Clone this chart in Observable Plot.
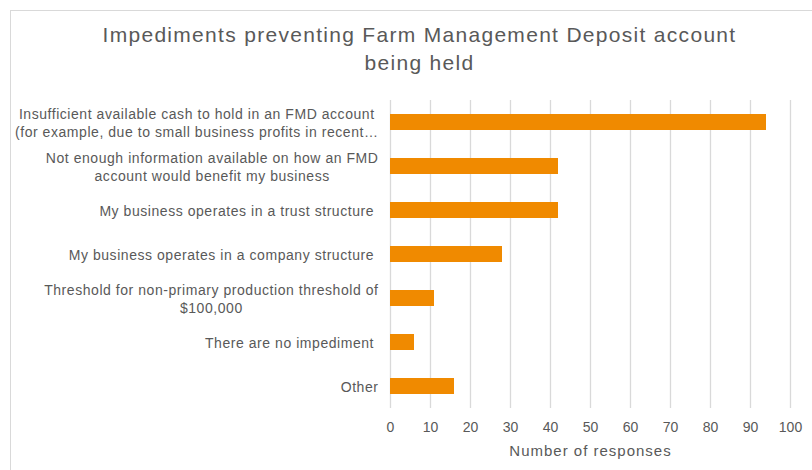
<!DOCTYPE html>
<html>
<head>
<meta charset="utf-8">
<script src="https://cdn.jsdelivr.net/npm/d3@7"></script>
<script src="https://cdn.jsdelivr.net/npm/@observablehq/plot@0.6"></script>
<style>
  html, body { margin: 0; padding: 0; background: #fff; overflow: hidden; }
  #wrap { position: relative; width: 812px; height: 470px; overflow: hidden; font-family: "Liberation Sans", Arial, sans-serif; }
  #frame { position: absolute; left: 10px; top: 10px; width: 900px; height: 600px; border: 1px solid #d9d9d9; box-sizing: border-box; }
  #title { position: absolute; left: 10px; width: 819px; top: 21px; text-align: center; font-size: 21px; letter-spacing: 1.3px; line-height: 28px; color: #595959; }
  #chart { position: absolute; left: 0; top: 0; }
</style>
</head>
<body>
<div id="wrap">
  <div id="frame"></div>
  <div id="chart"></div>
  <div id="title">Impediments preventing Farm Management Deposit account<br>being held</div>
</div>
<script>
const categories = [
  "Insufficient available cash to hold in an FMD account (for example, due to small business profits in recent years)",
  "Not enough information available on how an FMD account would benefit my business",
  "My business operates in a trust structure",
  "My business operates in a company structure",
  "Threshold for non-primary production threshold of $100,000",
  "There are no impediment",
  "Other"
];
const tickLabels = [
  "Insufficient available cash to hold in an FMD account\n(for example, due to small business profits in recent\u2026",
  "Not enough information available on how an FMD\naccount would benefit my business",
  "My business operates in a trust structure\u00a0",
  "My business operates in a company structure\u00a0",
  "Threshold for non-primary production threshold of\n$100,000",
  "There are no impediment\u00a0",
  "Other"
];
const values = [94, 42, 42, 28, 11, 6, 16];
const xTicks = [0, 10, 20, 30, 40, 50, 60, 70, 80, 90, 100];
const xLabel = "Number of responses";

const data = categories.map((c, i) => ({category: c, value: values[i]}));
const labelOf = new Map(categories.map((c, i) => [c, tickLabels[i]]));

const plot = Plot.plot({
  width: 812,
  height: 470,
  marginLeft: 390,
  marginRight: 22,
  marginTop: 100,
  marginBottom: 62,
  style: {fontFamily: '"Liberation Sans", Arial, sans-serif', color: "#595959", background: "transparent"},
  x: {domain: [0, 100]},
  y: {domain: categories, padding: 0},
  marks: [
    Plot.ruleX(xTicks, {stroke: "#d9d9d9", strokeWidth: 1.3}),
    Plot.barX(data, {x: "value", y: "category", fill: "#F08A00", insetTop: 14, insetBottom: 14}),
    Plot.axisX({ticks: xTicks, tickSize: 0, tickPadding: 14, fontSize: 14, fill: "#595959",
      label: xLabel, labelAnchor: "center", labelArrow: "none", labelOffset: 47}),
    Plot.axisY({tickSize: 0, tickPadding: 12, fontSize: 14, fill: "#595959", lineHeight: 1.28,
      tickFormat: d => labelOf.get(d), label: null})
  ]
});
document.getElementById("chart").appendChild(plot);

// letter spacing on the category labels and axis title, as in the source
plot.querySelectorAll('g[aria-label="y-axis tick label"] text').forEach(t => t.setAttribute("letter-spacing", "0.55"));
plot.querySelectorAll('g[aria-label="x-axis label"] text').forEach(t => {
  t.setAttribute("font-size", 15);
  t.setAttribute("letter-spacing", "1");
});

// center multi-line tick labels within their right-aligned block (as in the source chart)
plot.querySelectorAll('g[aria-label="y-axis tick label"] text').forEach(t => {
  const bb = t.getBBox();
  const cx = bb.x + bb.width / 2;
  const spans = t.querySelectorAll("tspan");
  if (spans.length) spans.forEach(s => s.setAttribute("x", cx));
  else t.setAttribute("x", cx);
  t.setAttribute("text-anchor", "middle");
});
</script>
</body>
</html>
